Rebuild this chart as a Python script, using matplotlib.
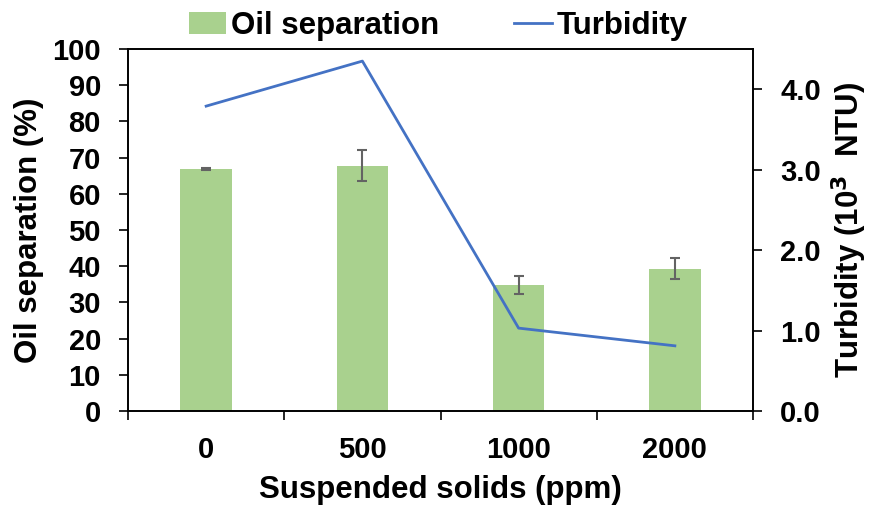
import matplotlib.pyplot as plt
from matplotlib.lines import Line2D
from matplotlib.patches import Patch
from matplotlib.ticker import FixedLocator

plt.rcParams["font.family"] = ["Liberation Sans", "DejaVu Sans"]
plt.rcParams["font.weight"] = "bold"

# Suspended solids levels (ppm)
solids = ["0", "500", "1000", "2000"]
# Oil separation (%) with standard deviation
oil_sep = [66.9, 67.8, 34.8, 39.3]
oil_err = [0.3, 4.4, 2.5, 2.9]
# Turbidity (10^3 NTU)
turbidity = [3.79, 4.35, 1.03, 0.81]

BAR_COLOR = "#A9D18E"
LINE_COLOR = "#4472C4"
ERR_COLOR = "#636363"
TICK_FS = 21
LABEL_FS = 22.5

fig = plt.figure(figsize=(8.71, 5.08), dpi=100)
ax = fig.add_axes([0.147, 0.191, 0.7175, 0.7125])
ax2 = ax.twinx()

x = list(range(len(solids)))
ax.bar(x, oil_sep, width=0.33, color=BAR_COLOR, zorder=2)
ax.errorbar(x, oil_sep, yerr=oil_err, fmt="none", ecolor=ERR_COLOR,
            elinewidth=1.5, capsize=3.5, capthick=1.5, zorder=3)

ax2.plot(x, turbidity, color=LINE_COLOR, lw=2.0)

ax.set_xlim(-0.5, len(solids) - 0.5)
ax.set_ylim(0, 100)
ax.set_yticks(range(0, 101, 10))
ax2.set_ylim(0, 4.5)
ax2.set_yticks([0, 1, 2, 3, 4])
ax2.set_yticklabels([f"{v:.1f}" for v in [0, 1, 2, 3, 4]])

# category labels centred, tick marks on the boundaries
ax.set_xticks(x)
ax.set_xticklabels(solids)
ax.xaxis.set_minor_locator(FixedLocator([i - 0.5 for i in range(len(solids) + 1)]))
ax.tick_params(axis="x", which="major", length=0, pad=18, labelsize=TICK_FS)
ax.tick_params(axis="x", which="minor", length=6.5, width=1.2, direction="out")
ax.tick_params(axis="y", length=6.5, width=1.2, direction="out",
               labelsize=TICK_FS, pad=13)
ax2.tick_params(axis="y", length=6.5, width=1.2, direction="out",
                labelsize=TICK_FS, pad=13)

for a in (ax, ax2):
    for s in a.spines.values():
        s.set_linewidth(1.2)
        s.set_color("black")

ax.set_xlabel("Suspended solids (ppm)", fontsize=LABEL_FS, fontweight="bold",
              labelpad=8)
ax.set_ylabel("Oil separation (%)", fontsize=LABEL_FS, fontweight="bold",
              labelpad=6)
ax2.set_ylabel("Turbidity (10$^{\\mathbf{3}}$  NTU)", fontsize=LABEL_FS,
               fontweight="bold", labelpad=6)

handles = [Patch(facecolor=BAR_COLOR, edgecolor="none"),
           Line2D([], [], color=LINE_COLOR, lw=2.0)]
fig.legend(handles, ["Oil separation", "Turbidity"], loc="center",
           bbox_to_anchor=(0.503, 0.949), ncol=2, frameon=False,
           fontsize=LABEL_FS, handlelength=1.2, handletextpad=0.15,
           columnspacing=2.4, borderpad=0)

fig.savefig("out.png", dpi=100)
